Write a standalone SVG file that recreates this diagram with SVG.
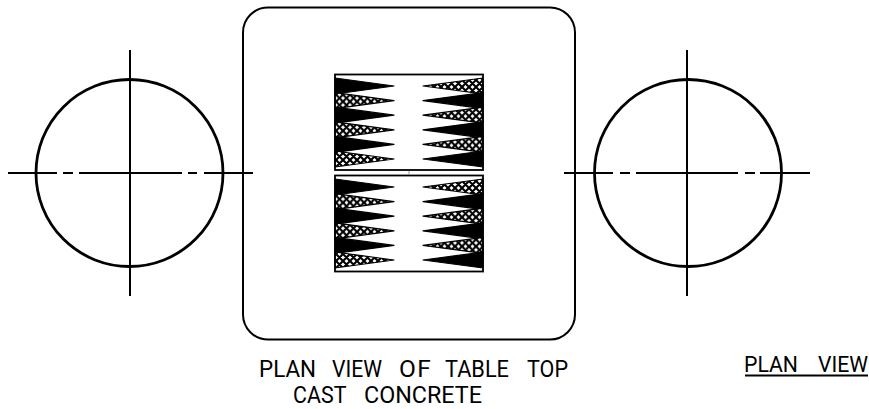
<svg xmlns="http://www.w3.org/2000/svg" xmlns:xlink="http://www.w3.org/1999/xlink" width="869" height="409" viewBox="0 0 869 409">
<style>
.o{fill:none;stroke:#000;stroke-width:2.800}
.c{fill:none;stroke:#000;stroke-width:2}
.s{fill:#000;stroke:#000;stroke-width:1.200;stroke-linejoin:round}
.h{fill:url(#x);stroke:#000;stroke-width:1.200;stroke-linejoin:round}
.t{font-family:Roboto,"Liberation Sans",sans-serif;font-weight:400;font-size:24.500px;fill:#000}
.u{font-size:21.500px}
</style>
<defs>
<pattern id="x" width="7" height="7" patternUnits="userSpaceOnUse" patternTransform="translate(0 1)">
<rect width="7" height="7" fill="#fff"/>
<path d="M-1 1L1 -1M-1 8L8 -1M6 8L8 6M-1 6L1 8M-1 -1L8 8M6 -1L8 1" stroke="#000" stroke-width="2.100" fill="none"/>
</pattern>
<g id="tri">
<path class="s" d="M335 -8L394 0L335 8Z" transform="translate(0 86)"/>
<path class="h" d="M335 -8L394 0L335 8Z" transform="translate(0 100.600)"/>
<path class="s" d="M335 -8L394 0L335 8Z" transform="translate(0 115.200)"/>
<path class="h" d="M335 -8L394 0L335 8Z" transform="translate(0 129.800)"/>
<path class="s" d="M335 -8L394 0L335 8Z" transform="translate(0 144.400)"/>
<path class="h" d="M335 -8L394 0L335 8Z" transform="translate(0 159)"/>
<path class="h" d="M483 -8L423 0L483 8Z" transform="translate(0 86)"/>
<path class="s" d="M483 -8L423 0L483 8Z" transform="translate(0 100.600)"/>
<path class="h" d="M483 -8L423 0L483 8Z" transform="translate(0 115.200)"/>
<path class="s" d="M483 -8L423 0L483 8Z" transform="translate(0 129.800)"/>
<path class="h" d="M483 -8L423 0L483 8Z" transform="translate(0 144.400)"/>
<path class="s" d="M483 -8L423 0L483 8Z" transform="translate(0 159)"/>
</g>
</defs>
<rect width="869" height="409" fill="#fff"/>
<g id="connectors">
<path class="c" d="M130 50V296M8 173H57M63 173H73M79 173H182M188 173H197M204 173H253"/>
<path class="c" d="M687 50V296M564 173H613M620 173H630M636 173H738M745 173H755M760 173H810"/>
</g>
<g id="left-circle"><circle class="o" cx="129.500" cy="173" r="93.500"/></g>
<g id="right-circle"><circle class="o" cx="688" cy="173" r="93.500"/></g>
<g id="table-top">
<rect fill="none" stroke="#000" stroke-width="2" x="243" y="7.500" width="332" height="332" rx="25" ry="25"/>
<use xlink:href="#tri"/>
<use xlink:href="#tri" y="101"/>
<rect x="335" y="74.500" width="148" height="95.500" fill="none" stroke="#000" stroke-width="1.800"/>
<rect x="335" y="175.500" width="148" height="96" fill="none" stroke="#000" stroke-width="1.800"/>
<path d="M409 171V174" stroke="#999" stroke-width="1"/>
</g>
<g id="labels">
<text class="t"><tspan x="259" y="377" textLength="57" lengthAdjust="spacingAndGlyphs">PLAN</tspan> <tspan x="332" y="377" textLength="50" lengthAdjust="spacingAndGlyphs">VIEW</tspan> <tspan x="399" y="377" letter-spacing="1.500">OF</tspan> <tspan x="445" y="377" textLength="64" lengthAdjust="spacingAndGlyphs">TABLE</tspan> <tspan x="527" y="377" textLength="41" lengthAdjust="spacingAndGlyphs">TOP</tspan> <tspan x="293" y="403" textLength="53" lengthAdjust="spacingAndGlyphs">CAST</tspan> <tspan x="364" y="403" textLength="118" lengthAdjust="spacingAndGlyphs">CONCRETE</tspan></text>
<text class="t u"><tspan x="744" y="372" textLength="54" lengthAdjust="spacingAndGlyphs">PLAN</tspan> <tspan x="818" y="372" textLength="50" lengthAdjust="spacingAndGlyphs">VIEW</tspan></text>
<path d="M745 375.500H868" stroke="#000" stroke-width="1.800"/>
</g>
</svg>
